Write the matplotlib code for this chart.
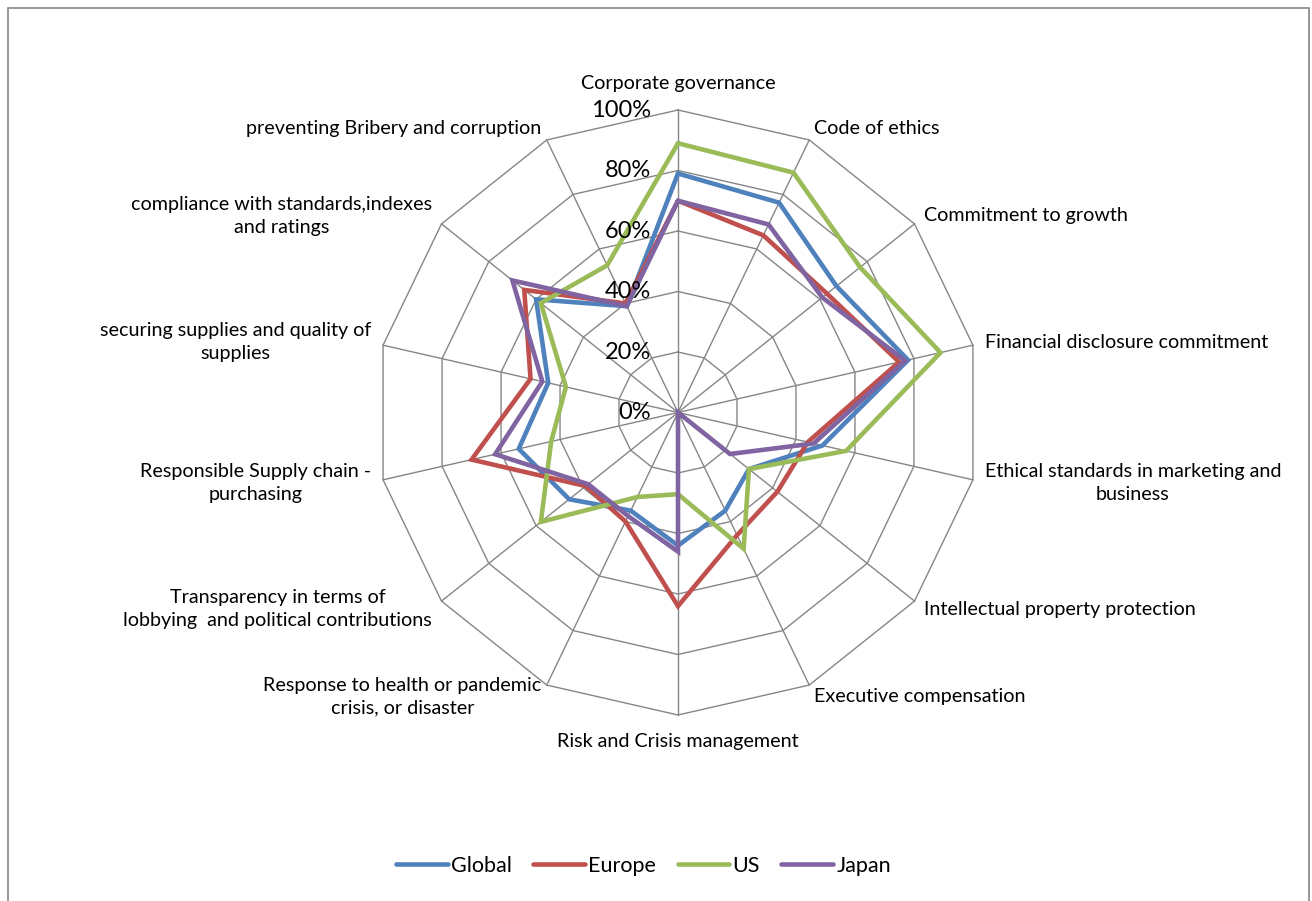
import numpy as np
import matplotlib.pyplot as plt
from matplotlib.patches import Rectangle

plt.rcParams['font.family'] = ['Lato', 'DejaVu Sans']

categories = [
    'Corporate governance',
    'Code of ethics',
    'Commitment to growth',
    'Financial disclosure commitment',
    'Ethical standards in marketing and\nbusiness',
    'Intellectual property protection',
    'Executive compensation',
    'Risk and Crisis management',
    'Response to health or pandemic\ncrisis, or disaster',
    'Transparency in terms of\nlobbying  and political contributions',
    'Responsible Supply chain -\npurchasing',
    'securing supplies and quality of\nsupplies',
    'compliance with standards,indexes\nand ratings',
    'preventing Bribery and corruption',
]

# share of companies per theme, in %
global_vals = [79, 77, 67, 78, 49, 30, 36, 44, 36, 46, 54, 44, 60, 39]
europe_vals = [70, 65, 63, 75, 44, 42, 45, 64, 40, 39, 70, 50, 65, 40]
us_vals = [89, 88, 77, 89, 57, 30, 50, 27, 31, 58, 43, 38, 58, 54]
japan_vals = [70, 69, 61, 77, 46, 22, 0, 46, 38, 38, 62, 46, 70, 39]

series = [
    ('Global', global_vals, '#4F81BD'),
    ('Europe', europe_vals, '#C0504D'),
    ('US', us_vals, '#9BBB59'),
    ('Japan', japan_vals, '#8064A2'),
]
rings = [0, 20, 40, 60, 80, 100]

W, H = 1312, 901
fig = plt.figure(figsize=(W / 100, H / 100), dpi=100)

cx, cy, R = 678, 412.5, 302.5
ax = fig.add_axes([(cx - R) / W, (H - cy - R) / H, 2 * R / W, 2 * R / H],
                  projection='polar')
ax.set_theta_zero_location('N')
ax.set_theta_direction(-1)
ax.set_ylim(0, 100)
ax.set_xticks([])
ax.set_yticks([])
ax.grid(False)
ax.spines['polar'].set_visible(False)
ax.patch.set_alpha(0)

n = len(categories)
theta = np.arange(n) * 2 * np.pi / n
closed = np.append(theta, theta[0])

grid_kw = dict(color='#868686', lw=1.0, zorder=1, clip_on=False)
for r in rings[1:]:
    ax.plot(closed, [r] * (n + 1), **grid_kw)
for t in theta:
    ax.plot([t, t], [0, 100], **grid_kw)

for name, vals, col in series:
    ax.plot(closed, vals + vals[:1], color=col, lw=3.3, label=name,
            solid_joinstyle='miter', solid_capstyle='round', zorder=3,
            clip_on=False)

# radial scale labels along the top spoke
for r in rings:
    ax.annotate(f'{r}%', xy=(0, r), xytext=(-27, 0), textcoords='offset pixels',
                ha='right', va='center', fontsize=17, color='black')

# category labels outside the outer ring
for t, lab in zip(theta, categories):
    s, c = np.sin(t), np.cos(t)
    if abs(s) < 0.05:
        ha, dx, dy = 'center', 0, 27 * np.sign(c)
    else:
        ha = 'left' if s > 0 else 'right'
        dx, dy = 12 * s, 13 * c
    ax.annotate(lab, xy=(t, 100), xytext=(dx, dy), textcoords='offset pixels',
                ha=ha, va='center', multialignment='center', fontsize=14.2,
                linespacing=1.42, color='black')

fig.legend(loc='center', bbox_to_anchor=(643.5 / W, 1 - 866 / H), ncol=4,
           frameon=False, fontsize=15.5, handlelength=2.4, handletextpad=0.15,
           columnspacing=1.0)

fig.add_artist(Rectangle((8 / W, -0.02), 1301 / W, (H - 7.5) / H + 0.02,
                         transform=fig.transFigure, fill=False,
                         ec='#868686', lw=1.2))

fig.savefig('out.png', dpi=100)
